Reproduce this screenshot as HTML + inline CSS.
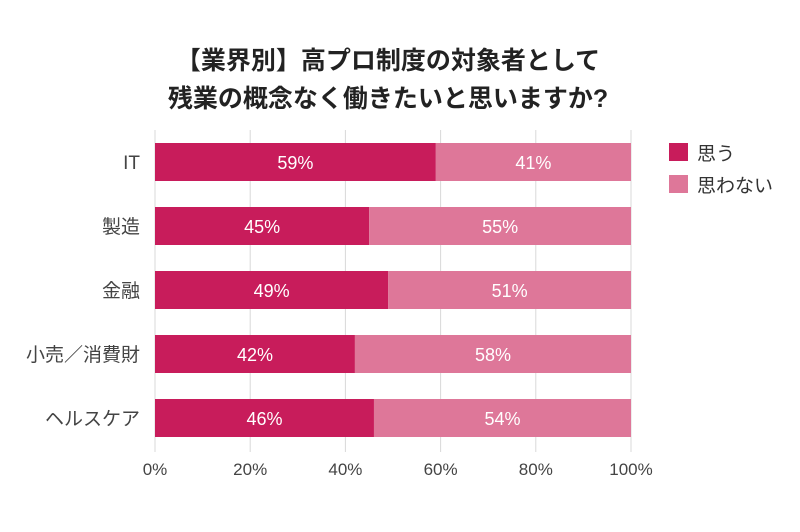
<!DOCTYPE html>
<html><head><meta charset="utf-8">
<style>
body{margin:0;background:#fff;font-family:"Liberation Sans","Noto Sans CJK JP",sans-serif;}
svg text{font-family:"Liberation Sans","Noto Sans CJK JP",sans-serif;}
</style></head>
<body>
<svg id="chart" width="800" height="527" xmlns="http://www.w3.org/2000/svg">
<text x="388" y="69" text-anchor="middle" font-size="25" font-weight="bold" fill="#222">【業界別】高プロ制度の対象者として</text>
<text x="388" y="107" text-anchor="middle" font-size="25" font-weight="bold" fill="#222">残業の概念なく働きたいと思いますか?</text>
<g id="grid"></g>
<g id="bars"></g>
<g id="xticks"></g>
<g>
<rect x="669" y="143" width="19" height="18" fill="#c81c5b"/>
<text x="697" y="160" font-size="19" fill="#333">思う</text>
<rect x="669" y="175" width="19" height="18" fill="#de7799"/>
<text x="697" y="192" font-size="19" fill="#333">思わない</text>
</g>
</svg>
<script>
const categories=["IT","製造","金融","小売／消費財","ヘルスケア"];
const yesValues=[59,45,49,42,46];
const noValues=[41,55,51,58,54];
const tickValues=[0,20,40,60,80,100];
const ns="http://www.w3.org/2000/svg";
const x0=155,x1=631,yTop=143,step=64,bh=38;
function xs(v){return x0+(x1-x0)*v/100;}
function yb(i){return yTop+i*step;}
function mk(tag,attrs,parent){const e=document.createElementNS(ns,tag);for(const k in attrs)e.setAttribute(k,attrs[k]);parent.appendChild(e);return e;}
const grid=document.getElementById('grid'),bars=document.getElementById('bars'),xt=document.getElementById('xticks');
tickValues.forEach(t=>{
  const l=mk('line',{x1:xs(t),x2:xs(t),y1:130,y2:452,stroke:'#d8d8d8','stroke-width':1},grid);
  
  
  const tx=mk('text',{x:xs(t),y:475,'text-anchor':'middle','font-size':17,fill:'#444'},xt);
  tx.textContent=t+'%';
  
  
});
categories.forEach((c,i)=>{
  const y=yb(i);
  const lab=mk('text',{x:140,y:y+bh/2+7,'text-anchor':'end','font-size':19,fill:'#444'},bars);
  lab.textContent=c;
  
  
  const r1=mk('rect',{x:xs(0),y:y,width:xs(yesValues[i])-xs(0),height:bh,fill:'#c81c5b'},bars);
  
  
  const r2=mk('rect',{x:xs(yesValues[i]),y:y,width:xs(yesValues[i]+noValues[i])-xs(yesValues[i]),height:bh,fill:'#de7799'},bars);
  
  
  const t1=mk('text',{x:(xs(0)+xs(yesValues[i]))/2,y:y+bh/2+7,'text-anchor':'middle','font-size':18,fill:'#fff'},bars);
  t1.textContent=yesValues[i]+'%';
  
  
  const t2=mk('text',{x:(xs(yesValues[i])+xs(yesValues[i]+noValues[i]))/2,y:y+bh/2+7,'text-anchor':'middle','font-size':18,fill:'#fff'},bars);
  t2.textContent=noValues[i]+'%';
  
  
});
</script>
</body></html>
